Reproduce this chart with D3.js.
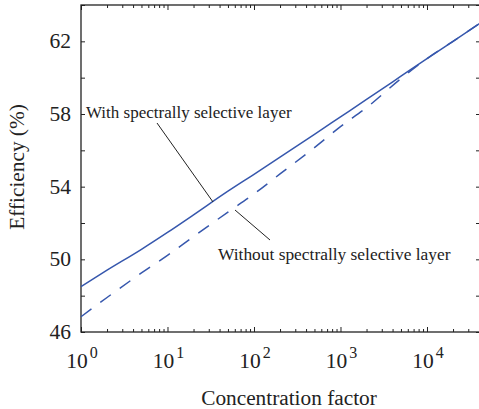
<!DOCTYPE html>
<html>
<head>
<meta charset="utf-8">
<script src="https://cdn.jsdelivr.net/npm/d3@7"></script>
<style>
  body { margin: 0; background: #fff; }
  svg text { font-family: "Liberation Serif", "Times New Roman", serif; fill: #222; }
</style>
</head>
<body>
<div id="chart"></div>
<script>
const width = 479;
const height = 409;
const margin = {top: 5, right: -1, bottom: 77, left: 81};

// concentration factor (x) and efficiency (%)
var concentration = [1, 2, 5, 10, 20, 50, 100, 200, 500, 1000, 2000, 5000, 10000, 20000, 41000];
var withLayer =    [48.5, 49.4, 50.55, 51.48, 52.45, 53.75, 54.68, 55.62, 56.88, 57.84, 58.8, 60.08, 61.05, 62.0, 63.0];
var withoutLayer = [46.84, 47.9, 49.25, 50.22, 51.25, 52.6, 53.6, 54.7, 56.15, 57.3, 58.35, 59.95, 61.05, 62.0, 63.0];

var yTicks = [46, 48, 50, 52, 54, 56, 58, 60, 62, 64];
var yLabels = [46, 50, 54, 58, 62];
var xDecades = [0, 1, 2, 3, 4];

var labelWith = "With spectrally selective layer";
var labelWithout = "Without spectrally selective layer";

var svg = d3.select("#chart").append("svg")
  .attr("width", width).attr("height", height);

var x = d3.scaleLog().domain([1, 41000]).range([margin.left, width - margin.right]);
var y = d3.scaleLinear().domain([46, 64]).range([height - margin.bottom, margin.top]);

var majorX = xDecades.map((e) => Math.pow(10, e));
var minorX = [];
xDecades.forEach((e) => {
  for (let k = 2; k <= 9; k++) {
    let v = k * Math.pow(10, e);
    if (v <= 41000) minorX.push(v);
  }
});

// axes (ticks pointing inward)
function drawAxis(axis, transform) {
  let g = svg.append("g").attr("transform", transform).call(axis);
  g.selectAll("text").remove();
  g.select(".domain").remove();
  g.selectAll("line").attr("stroke", "#222").attr("stroke-width", 1);
  return g;
}

var bottom = height - margin.bottom;
drawAxis(d3.axisBottom(x).tickValues(majorX).tickSize(-5), `translate(0,${bottom})`);
drawAxis(d3.axisBottom(x).tickValues(minorX).tickSize(-3), `translate(0,${bottom})`);
drawAxis(d3.axisTop(x).tickValues(majorX).tickSize(-5), `translate(0,${margin.top})`);
drawAxis(d3.axisTop(x).tickValues(minorX).tickSize(-3), `translate(0,${margin.top})`);
drawAxis(d3.axisLeft(y).tickValues(yTicks).tickSize(-4), `translate(${margin.left},0)`);
drawAxis(d3.axisRight(y).tickValues(yTicks).tickSize(-4), `translate(${width - margin.right},0)`);

// frame
svg.append("rect")
  .attr("x", margin.left).attr("y", margin.top)
  .attr("width", width - margin.right - margin.left)
  .attr("height", bottom - margin.top)
  .attr("fill", "none").attr("stroke", "#222").attr("stroke-width", 1.3);

// y tick labels
svg.selectAll(".ylab").data(yLabels).enter().append("text")
  .attr("x", 71).attr("y", (d) => y(d) + 7)
  .attr("text-anchor", "end").attr("font-size", 21.5)
  .text((d) => d);

// x tick labels 10^n
var xl = svg.selectAll(".xlab").data(xDecades).enter().append("text")
  .attr("x", (d) => x(Math.pow(10, d)) + 1)
  .attr("y", 368)
  .attr("text-anchor", "middle").attr("font-size", 21.5);
xl.append("tspan").text("10");
xl.append("tspan").attr("dx", 2).attr("dy", -10).attr("font-size", 16).text((d) => d);

// axis titles
svg.append("text").attr("x", 289).attr("y", 405)
  .attr("text-anchor", "middle").attr("font-size", 21.3)
  .text("Concentration factor");
svg.append("text")
  .attr("transform", "translate(24,167) rotate(-90)")
  .attr("text-anchor", "middle").attr("font-size", 21.3)
  .text("Efficiency (%)");

// curves
var line = d3.line()
  .x((d) => x(d[0]))
  .y((d) => y(d[1]))
  .curve(d3.curveMonotoneX);

svg.append("path")
  .attr("d", line(d3.zip(concentration, withLayer)))
  .attr("fill", "none").attr("stroke", "#3657ad").attr("stroke-width", 1.5);
svg.append("path")
  .attr("d", line(d3.zip(concentration, withoutLayer)))
  .attr("fill", "none").attr("stroke", "#3657ad").attr("stroke-width", 1.5)
  .attr("stroke-dasharray", "13,11");

// annotations
svg.append("text").attr("x", 86).attr("y", 118).attr("font-size", 17).text(labelWith);
svg.append("line")
  .attr("x1", 157).attr("y1", 123).attr("x2", 213).attr("y2", 202)
  .attr("stroke", "#222").attr("stroke-width", 1);

svg.append("text").attr("x", 218).attr("y", 260).attr("font-size", 17.4).text(labelWithout);
svg.append("line")
  .attr("x1", 235).attr("y1", 210).attr("x2", 270).attr("y2", 240)
  .attr("stroke", "#222").attr("stroke-width", 1);
</script>
</body>
</html>
